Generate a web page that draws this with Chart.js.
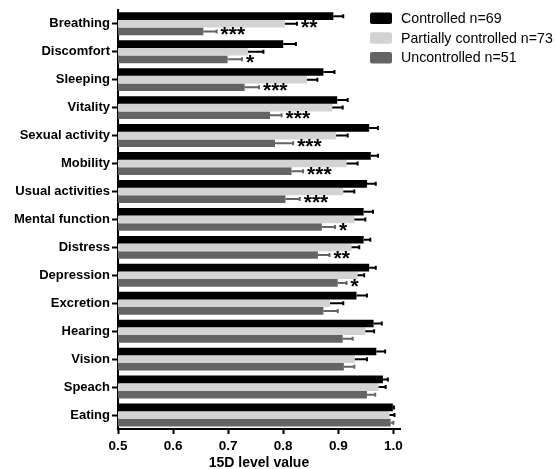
<!DOCTYPE html>
<html>
<head>
<meta charset="utf-8">
<script src="https://cdn.jsdelivr.net/npm/chart.js@4.4.0/dist/chart.umd.min.js"></script>
<style>
html,body{margin:0;padding:0;background:#fff;}
canvas{display:block;}
</style>
</head>
<body>
<canvas id="c" width="556" height="469"></canvas>
<script>
const categories = ["Breathing","Discomfort","Sleeping","Vitality","Sexual activity","Mobility","Usual activities","Mental function","Distress","Depression","Excretion","Hearing","Vision","Speach","Eating"];
const seriesNames = ["Controlled n=69","Partially controlled n=73","Uncontrolled n=51"];
const controlled = [0.891,0.800,0.873,0.898,0.956,0.959,0.952,0.946,0.946,0.956,0.933,0.964,0.969,0.981,0.999];
const controlledSem = [0.018,0.023,0.020,0.019,0.016,0.013,0.016,0.017,0.012,0.012,0.019,0.015,0.016,0.009,0.002];
const partial = [0.803,0.736,0.843,0.889,0.896,0.915,0.909,0.929,0.924,0.935,0.885,0.949,0.930,0.973,0.993];
const partialSem = [0.022,0.028,0.019,0.019,0.021,0.020,0.020,0.020,0.014,0.012,0.024,0.016,0.022,0.013,0.009];
const uncontrolled = [0.655,0.699,0.730,0.776,0.785,0.815,0.804,0.870,0.863,0.899,0.873,0.908,0.910,0.952,0.995];
const uncontrolledSem = [0.024,0.026,0.026,0.021,0.033,0.021,0.026,0.024,0.021,0.016,0.026,0.018,0.019,0.015,0.005];
const partialStars = ["**","","","","","","","","","","","","","",""];
const uncontrolledStars = ["***","*","***","***","***","***","***","*","**","*","","","","",""];
const xTicks = [0.5,0.6,0.7,0.8,0.9,1.0];
const xTitle = "15D level value";

const colors = ["#000000","#d3d3d3","#646464"];
const errColors = ["#000000","#000000","#646464"];
const sems = [controlledSem, partialSem, uncontrolledSem];
const stars = [null, partialStars, uncontrolledStars];

const FONT = "'Liberation Sans', Arial, sans-serif";

const errorPlugin = {
  id: 'errs',
  afterDatasetsDraw(chart) {
    const ctx = chart.ctx;
    const xs = chart.scales.x;
    chart.data.datasets.forEach((ds, di) => {
      const meta = chart.getDatasetMeta(di);
      meta.data.forEach((bar, i) => {
        const v = ds.data[i];
        const xEnd = xs.getPixelForValue(v + sems[di][i]);
        const xStart = xs.getPixelForValue(v);
        ctx.save();
        ctx.strokeStyle = errColors[di];
        ctx.lineWidth = 2;
        ctx.beginPath();
        ctx.moveTo(xStart, bar.y);
        ctx.lineTo(xEnd, bar.y);
        ctx.moveTo(xEnd, bar.y - 2);
        ctx.lineTo(xEnd, bar.y + 2);
        ctx.stroke();
        const s = stars[di] && stars[di][i];
        if (s) {
          ctx.fillStyle = "#000";
          ctx.font = "bold 21px " + FONT;
          ctx.textAlign = "left";
          ctx.textBaseline = "alphabetic";
          ctx.fillText(s, xEnd + 4, bar.y + 9.8);
        }
        ctx.restore();
      });
    });
  }
};

const legendPlugin = {
  id: 'customLegend',
  afterDraw(chart) {
    const ctx = chart.ctx;
    ctx.save();
    seriesNames.forEach((name, i) => {
      const y = 12.5 + i * 19.7;
      ctx.fillStyle = colors[i];
      ctx.beginPath();
      if (ctx.roundRect) ctx.roundRect(370, y, 22, 11.5, 2); else ctx.rect(370, y, 22, 11.5);
      ctx.fill();
      ctx.fillStyle = "#000";
      ctx.font = "14.2px " + FONT;
      ctx.textAlign = "left";
      ctx.textBaseline = "middle";
      ctx.fillText(name, 401, y + 6.5);
    });
    ctx.restore();
  }
};

new Chart(document.getElementById('c'), {
  type: 'bar',
  data: {
    labels: categories,
    datasets: [
      {label: seriesNames[0], data: controlled, backgroundColor: colors[0]},
      {label: seriesNames[1], data: partial, backgroundColor: colors[1]},
      {label: seriesNames[2], data: uncontrolled, backgroundColor: colors[2]}
    ]
  },
  options: {
    indexAxis: 'y',
    responsive: false,
    animation: false,
    devicePixelRatio: 1,
    categoryPercentage: 0.82,
    barPercentage: 1.0,
    layout: {padding: {top: 8, right: 156, left: 0, bottom: 0}},
    plugins: {legend: {display: false}, tooltip: {enabled: false}},
    scales: {
      x: {
        min: 0.5,
        max: 1.012,
        afterBuildTicks(scale) { scale.ticks = xTicks.map(v => ({value: v})); },
        afterFit(scale) { scale.height = 40; },
        grid: {drawOnChartArea: false, drawTicks: true, tickLength: 5, tickWidth: 2, tickColor: "#000"},
        border: {display: true, color: "#000", width: 2},
        ticks: {color: "#000", font: {family: FONT, size: 13.5, weight: 'bold'}, padding: 4,
          callback: (v) => Number(v).toFixed(1)},
        title: {display: true, text: xTitle, color: "#000", font: {family: FONT, size: 14, weight: 'bold', lineHeight: 0.8}, padding: {top: 0, bottom: 0}}
      },
      y: {
        afterFit(scale) { scale.width = 118; },
        grid: {offset: false, drawOnChartArea: false, drawTicks: true, tickLength: 6, tickWidth: 2, tickColor: "#000"},
        border: {display: true, color: "#000", width: 2},
        ticks: {color: "#000", font: {family: FONT, size: 13, weight: 'bold'}, padding: 2}
      }
    }
  },
  plugins: [errorPlugin, legendPlugin]
});
</script>
</body>
</html>
